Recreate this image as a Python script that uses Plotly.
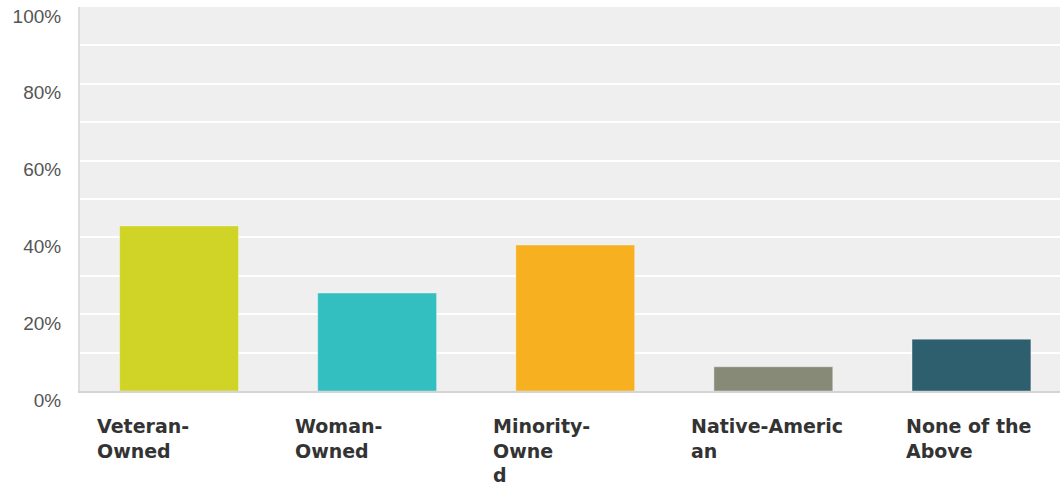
import plotly.graph_objects as go

categories = ["Veteran-Owned", "Woman-Owned", "Minority-Owned", "Native-American", "None of the Above"]
label_text = ["Veteran-<br>Owned", "Woman-<br>Owned", "Minority-<br>Owne<br>d", "Native-Americ<br>an", "None of the<br>Above"]
values = [43.0, 25.5, 38.0, 6.3, 13.5]
colors = ["#cfd427", "#33bec0", "#f7b020", "#888a78", "#2e5f6e"]
y_ticks = [0, 20, 40, 60, 80, 100]
y_tick_text = ["0%", "20%", "40%", "60%", "80%", "100%"]

fig = go.Figure()
fig.add_trace(go.Bar(
    x=list(range(len(categories))), y=values, width=0.6,
    marker=dict(color=colors, line=dict(color="rgba(255,255,255,0.35)", width=1)),
    hoverinfo="skip",
))

# the last label is nudged right in the reference so it fits inside the chart
label_shift = [-83, -83, -83, -83, -66]
for i, t in enumerate(label_text):
    fig.add_annotation(
        x=i, y=0, xref="x", yref="y", text=t, showarrow=False,
        xanchor="left", yanchor="top", align="left",
        xshift=label_shift[i], yshift=-23, borderpad=0,
        font=dict(family="DejaVu Sans", size=19, color="#333333", weight="bold"),
    )

fig.update_layout(
    width=1060, height=487,
    margin=dict(l=80, r=0, t=7, b=96),
    paper_bgcolor="white", plot_bgcolor="#efefef",
    showlegend=False,
    xaxis=dict(range=[-0.5, 4.447], showticklabels=False, showgrid=False,
               zeroline=False, showline=True, linecolor="#d4d4d4", linewidth=2,
               fixedrange=True),
    yaxis=dict(range=[0, 100], tickvals=y_ticks, ticktext=y_tick_text,
               showgrid=True, gridcolor="white", gridwidth=2,
               minor=dict(dtick=10, showgrid=True, gridcolor="white", gridwidth=2),
               zeroline=False, showline=True, linecolor="#dddddd", linewidth=2,
               ticklabelstandoff=13, ticklabelshift=9,
               tickfont=dict(family="Liberation Sans", size=19, color="#555555"),
               fixedrange=True),
)

fig.write_html("out.html")
